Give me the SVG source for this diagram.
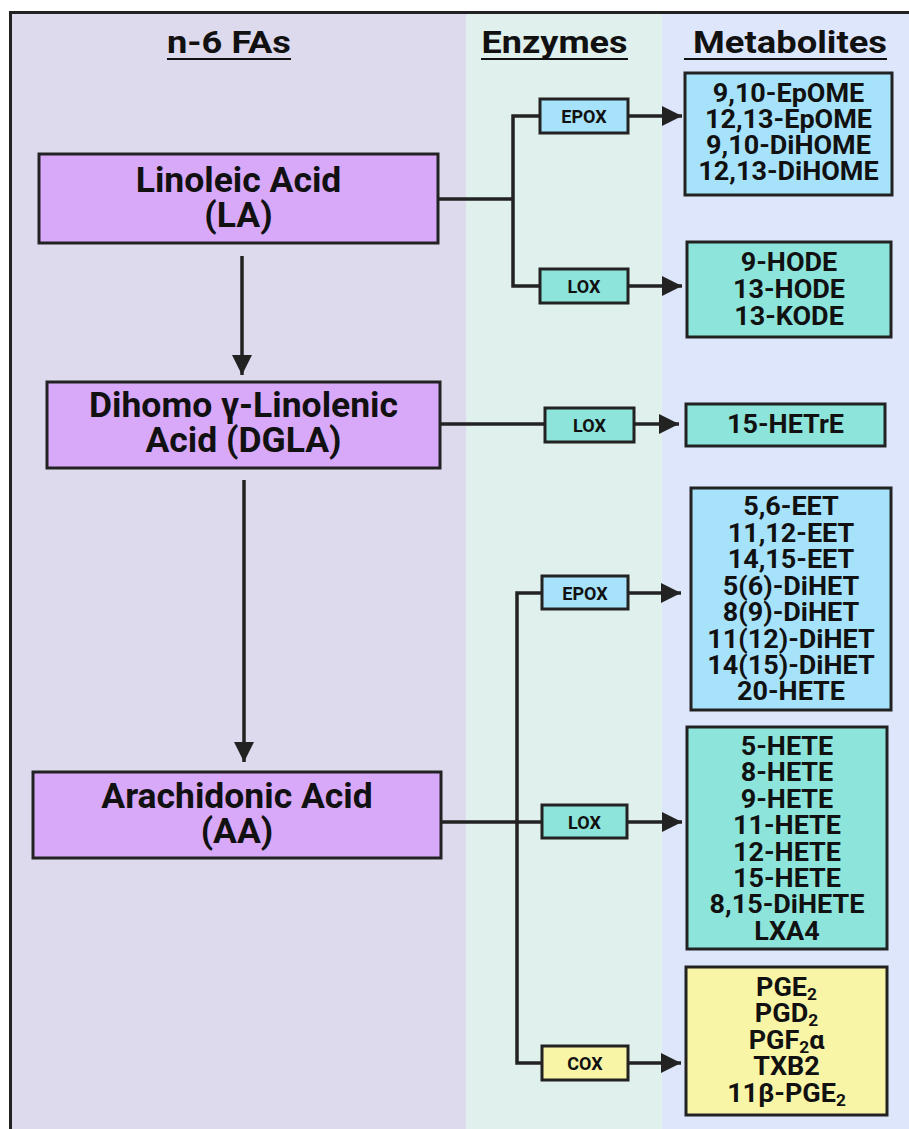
<svg xmlns="http://www.w3.org/2000/svg" width="909" height="1129" viewBox="0 0 909 1129">
<style>
text{font-family:Roboto,"Liberation Sans",sans-serif;font-weight:700;fill:#111;text-anchor:middle}
.hd{font-size:32px}
.fa{font-size:35.5px}
.mt{font-size:25px}
.ez{font-size:18px}
.sb{font-size:16px}
.box{stroke:#222;stroke-width:3}
.fa-box{fill:#d8a9f8}
.blue{fill:#a7e2fb}
.teal{fill:#8ce4da}
.yel{fill:#f8f5a7}
.conn{fill:none;stroke:#222;stroke-width:3.5}
.ul{stroke:#111;stroke-width:2.2}
</style>
<defs>
<marker id="ah" markerUnits="userSpaceOnUse" markerWidth="20" markerHeight="20" refX="20" refY="10" orient="auto">
<path d="M0,0 L20,10 L0,20 z" fill="#222"/>
</marker>
</defs>
<rect x="0" y="0" width="909" height="1129" fill="#fff"/>
<g id="columns">
<rect x="10" y="12" width="456" height="1117" fill="#dedaee"/>
<rect x="466" y="12" width="196" height="1117" fill="#e0f0ed"/>
<rect x="662" y="12" width="247" height="1117" fill="#dde6fb"/>
<rect x="10.5" y="12.5" width="920" height="1130" fill="none" stroke="#222" stroke-width="3"/>
</g>
<g id="headers">
<text class="hd" x="229" y="53" textLength="124" lengthAdjust="spacingAndGlyphs">n-6 FAs</text>
<line class="ul" x1="167" y1="59" x2="291" y2="59"/>
<text class="hd" x="554.5" y="53" textLength="146" lengthAdjust="spacingAndGlyphs">Enzymes</text>
<line class="ul" x1="481" y1="59" x2="628" y2="59"/>
<text class="hd" x="790" y="53" textLength="194" lengthAdjust="spacingAndGlyphs">Metabolites</text>
<line class="ul" x1="684" y1="59" x2="887" y2="59"/>
</g>
<g id="connectors">
<path class="conn" d="M242,256 V375" marker-end="url(#ah)"/>
<path class="conn" d="M244,480 V762" marker-end="url(#ah)"/>
<path class="conn" d="M438,199 H513"/>
<path class="conn" d="M540,116 H513 V286 H540"/>
<path class="conn" d="M628,116 H682" marker-end="url(#ah)"/>
<path class="conn" d="M628,286 H682" marker-end="url(#ah)"/>
<path class="conn" d="M440,424 H545"/>
<path class="conn" d="M634,424 H679" marker-end="url(#ah)"/>
<path class="conn" d="M441,822 H542"/>
<path class="conn" d="M542,593 H517 V1063 H542"/>
<path class="conn" d="M628,593 H681" marker-end="url(#ah)"/>
<path class="conn" d="M627,822 H682" marker-end="url(#ah)"/>
<path class="conn" d="M628,1063 H681" marker-end="url(#ah)"/>
</g>
<g id="LA">
<rect class="box fa-box" x="39" y="154" width="399" height="89"/>
<text class="fa" x="238.5" y="192">Linoleic Acid</text>
<text class="fa" x="238.5" y="227">(LA)</text>
</g>
<g id="DGLA">
<rect class="box fa-box" x="47" y="382" width="393" height="86"/>
<text class="fa" x="243.5" y="417">Dihomo γ-Linolenic</text>
<text class="fa" x="243.5" y="452">Acid (DGLA)</text>
</g>
<g id="AA">
<rect class="box fa-box" x="33" y="772" width="408" height="86"/>
<text class="fa" x="237" y="808">Arachidonic Acid</text>
<text class="fa" x="237" y="843">(AA)</text>
</g>
<g id="EPOX-LA">
<rect class="box blue" x="540" y="99" width="88" height="34"/>
<text class="ez" x="584" y="122.5">EPOX</text>
</g>
<g id="LOX-LA">
<rect class="box teal" x="540" y="269" width="88" height="34"/>
<text class="ez" x="584" y="292.5">LOX</text>
</g>
<g id="LOX-DGLA">
<rect class="box teal" x="545" y="408" width="89" height="34"/>
<text class="ez" x="589.5" y="431.5">LOX</text>
</g>
<g id="EPOX-AA">
<rect class="box blue" x="542" y="576" width="86" height="33"/>
<text class="ez" x="585" y="599.5">EPOX</text>
</g>
<g id="LOX-AA">
<rect class="box teal" x="542" y="805" width="85" height="33"/>
<text class="ez" x="584.5" y="828.5">LOX</text>
</g>
<g id="COX-AA">
<rect class="box yel" x="542" y="1046" width="86" height="34"/>
<text class="ez" x="585" y="1069.5">COX</text>
</g>
<g id="M-LA-EPOX">
<rect class="box blue" x="685" y="73" width="207" height="122"/>
<g transform="matrix(1.08,0,0,1,-63.08,0)">
<text class="mt" x="788.5" y="102">9,10-EpOME</text>
<text class="mt" x="788.5" y="128">12,13-EpOME</text>
<text class="mt" x="788.5" y="154">9,10-DiHOME</text>
<text class="mt" x="788.5" y="180">12,13-DiHOME</text>
</g>
</g>
<g id="M-LA-LOX">
<rect class="box teal" x="687" y="242" width="204" height="95"/>
<g transform="matrix(1.08,0,0,1,-63.12,0)">
<text class="mt" x="789" y="271">9-HODE</text>
<text class="mt" x="789" y="298">13-HODE</text>
<text class="mt" x="789" y="325">13-KODE</text>
</g>
</g>
<g id="M-DGLA-LOX">
<rect class="box teal" x="686" y="404" width="199" height="42"/>
<g transform="matrix(1.08,0,0,1,-62.84,0)">
<text class="mt" x="785.5" y="433">15-HETrE</text>
</g>
</g>
<g id="M-AA-EPOX">
<rect class="box blue" x="691" y="488" width="200" height="222"/>
<g transform="matrix(1.08,0,0,1,-63.28,0)">
<text class="mt" x="791" y="515">5,6-EET</text>
<text class="mt" x="791" y="542">11,12-EET</text>
<text class="mt" x="791" y="568">14,15-EET</text>
<text class="mt" x="791" y="595">5(6)-DiHET</text>
<text class="mt" x="791" y="621">8(9)-DiHET</text>
<text class="mt" x="791" y="648">11(12)-DiHET</text>
<text class="mt" x="791" y="674">14(15)-DiHET</text>
<text class="mt" x="791" y="700">20-HETE</text>
</g>
</g>
<g id="M-AA-LOX">
<rect class="box teal" x="687" y="727" width="200" height="222"/>
<g transform="matrix(1.08,0,0,1,-62.96,0)">
<text class="mt" x="787" y="755">5-HETE</text>
<text class="mt" x="787" y="781">8-HETE</text>
<text class="mt" x="787" y="808">9-HETE</text>
<text class="mt" x="787" y="834">11-HETE</text>
<text class="mt" x="787" y="861">12-HETE</text>
<text class="mt" x="787" y="887">15-HETE</text>
<text class="mt" x="787" y="913">8,15-DiHETE</text>
<text class="mt" x="787" y="940">LXA4</text>
</g>
</g>
<g id="M-AA-COX">
<rect class="box yel" x="686" y="967" width="201" height="148"/>
<g transform="matrix(1.08,0,0,1,-62.92,0)">
<text class="mt" x="786.5" y="996">PGE<tspan class="sb" dy="4">2</tspan></text>
<text class="mt" x="786.5" y="1022">PGD<tspan class="sb" dy="4">2</tspan></text>
<text class="mt" x="786.5" y="1049">PGF<tspan class="sb" dy="4">2</tspan><tspan dy="-4">α</tspan></text>
<text class="mt" x="786.5" y="1075">TXB2</text>
<text class="mt" x="786.5" y="1102">11β-PGE<tspan class="sb" dy="4">2</tspan></text>
</g>
</g>
</svg>
